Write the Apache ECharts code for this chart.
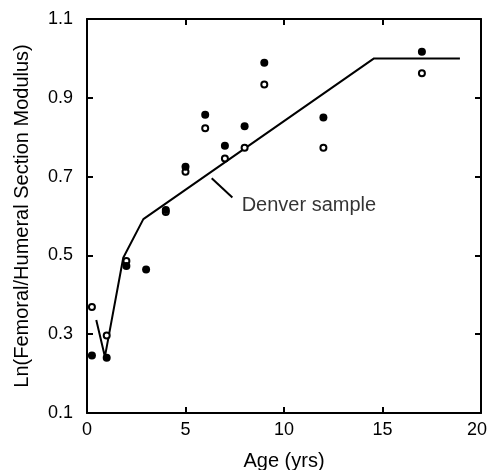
<!DOCTYPE html>
<html><head><meta charset="utf-8">
<script src="https://cdn.jsdelivr.net/npm/echarts@6/dist/echarts.min.js"></script>
<style>html,body{margin:0;padding:0;background:#fff}#c{width:489px;height:470px}</style>
</head><body><div id="c"></div>
<script>
var filledAge = [0.25, 1, 2, 3, 4, 5, 6, 7, 8, 9, 12, 17];
var filledVal = [0.246, 0.240, 0.473, 0.464, 0.615, 0.725, 0.857, 0.778, 0.828, 0.989, 0.850, 1.017];
var openAge = [0.25, 1, 2, 4, 5, 6, 7, 8, 9, 12, 17];
var openVal = [0.369, 0.297, 0.486, 0.610, 0.712, 0.823, 0.746, 0.773, 0.934, 0.773, 0.962];
var lineAge = [0.47, 0.91, 1.84, 2.86, 14.57, 18.93];
var lineVal = [0.336, 0.243, 0.494, 0.592, 1.0, 1.0];
var leaderAge = [6.33, 7.38];
var leaderVal = [0.696, 0.647];
var labelText = 'Denver sample';
var labelAge = [7.85];
var labelVal = [0.626];
var xTicks = [0, 5, 10, 15, 20];
var yTicks = [0.1, 0.3, 0.5, 0.7, 0.9, 1.1];

function zip(a, b) { return a.map(function (v, i) { return [v, b[i]]; }); }
var FONT = 'Liberation Sans, Arial, Helvetica, sans-serif';
var chart = echarts.init(document.getElementById('c'));
var axisCommon = {
  axisLine: { show: true, onZero: false, lineStyle: { color: '#000', width: 2 } },
  axisTick: { show: true, inside: true, length: 6, lineStyle: { color: '#000', width: 2 } },
  splitLine: { show: false }
};
chart.setOption({
  animation: false,
  grid: { left: 87, right: 8, top: 19, bottom: 57, containLabel: false, outerBoundsMode: 'none' },
  xAxis: [
    Object.assign({ type: 'value', min: 0, max: 20, interval: 5, position: 'bottom',
      name: 'Age (yrs)', nameLocation: 'middle', nameGap: 38,
      nameTextStyle: { fontFamily: FONT, fontSize: 20, color: '#000' },
      axisLabel: { fontFamily: FONT, fontSize: 18, color: '#000', margin: 8,
        formatter: function (v) { return v === xTicks[xTicks.length - 1] ? '{r|' + v + '}' : String(v); },
        rich: { r: { fontFamily: FONT, fontSize: 18, color: '#000', padding: [0, 8, 0, 0] } } } }, axisCommon),
    Object.assign({ type: 'value', min: 0, max: 20, interval: 5, position: 'top',
      axisLabel: { show: false } }, axisCommon)
  ],
  yAxis: [
    Object.assign({ type: 'value', min: 0.1, max: 1.1, interval: 0.2, position: 'left',
      name: 'Ln(Femoral/Humeral Section Modulus)', nameLocation: 'middle', nameGap: 55,
      nameTextStyle: { fontFamily: FONT, fontSize: 20, color: '#000' },
      axisLabel: { fontFamily: FONT, fontSize: 18, color: '#000', margin: 14,
        formatter: function (v) { return v.toFixed(1); } } }, axisCommon),
    Object.assign({ type: 'value', min: 0.1, max: 1.1, interval: 0.2, position: 'right',
      axisLabel: { show: false } }, axisCommon)
  ],
  series: [
    { type: 'line', data: zip(lineAge, lineVal), symbol: 'none',
      lineStyle: { color: '#000', width: 2 }, z: 2 },
    { type: 'line', data: zip(leaderAge, leaderVal), symbol: 'none',
      lineStyle: { color: '#000', width: 2 }, z: 2 },
    { type: 'scatter', data: zip(openAge, openVal), symbol: 'circle', symbolSize: 6,
      itemStyle: { color: '#fff', borderColor: '#000', borderWidth: 2, opacity: 1 }, z: 3 },
    { type: 'scatter', data: zip(filledAge, filledVal), symbol: 'circle', symbolSize: 8,
      itemStyle: { color: '#000', opacity: 1 }, z: 4 },
    { type: 'scatter', data: zip(labelAge, labelVal), symbolSize: 0,
      label: { show: true, position: 'right', distance: 0, formatter: labelText,
        fontFamily: FONT, fontSize: 20, color: '#000' }, z: 5 }
  ]
});
</script></body></html>
